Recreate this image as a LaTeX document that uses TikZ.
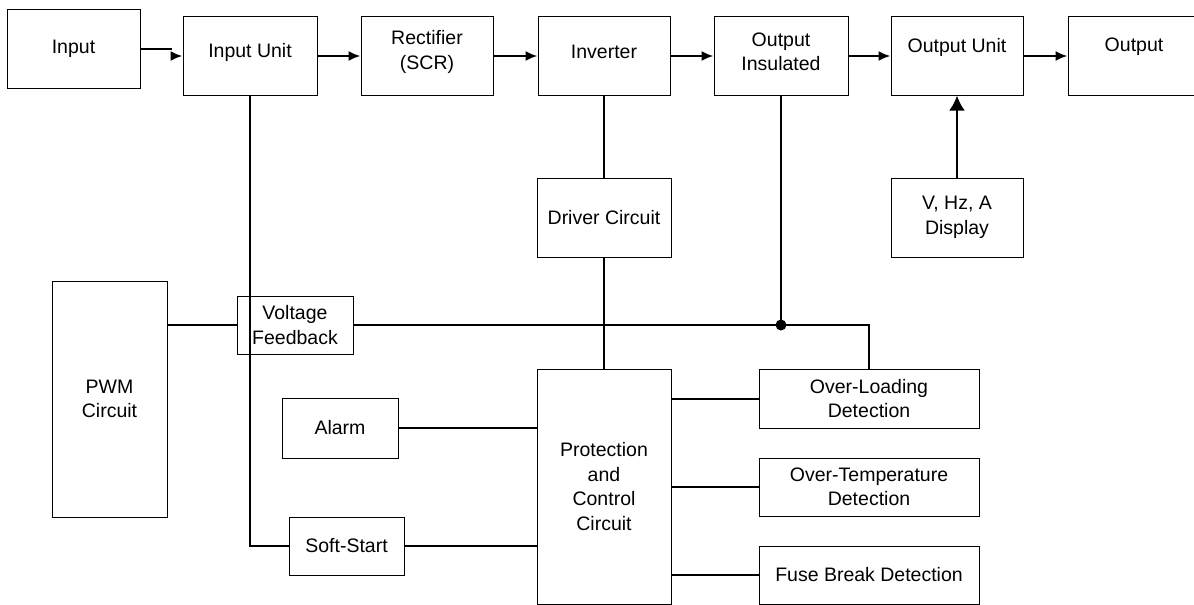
\documentclass[tikz,border=0pt]{standalone}
\usepackage{fontspec}
\setmainfont{Liberation Sans}
\usetikzlibrary{arrows.meta}
\tikzset{
  box/.style={draw, line width=1pt, inner sep=0pt, align=center,
    font=\fontsize{19.5}{24.5}\selectfont},
  boxlabel/.style={font=\fontsize{19.5}{24.5}\selectfont, align=center, inner sep=0pt},
  wire/.style={line width=2pt},
  arrow/.style={wire, -{Latex[length=12pt,width=10pt]}},
  bigarrow/.style={line width=2.8pt, -{Latex[length=15pt,width=16pt]}},
  junction/.style={circle, fill, inner sep=0pt, minimum size=11pt}
}
\begin{document}
\begin{tikzpicture}[x=1pt,y=-1pt]
\useasboundingbox (0,0) rectangle (1194,605);
% top row
\node[box, minimum width=133, minimum height=79] (in) at (73.5,48.5) {Input};
\node[box, minimum width=134, minimum height=79,
  label={[boxlabel, yshift=3.5pt]center:Input Unit}] (iu) at (250,55.5) {};
\node[box, minimum width=132, minimum height=79,
  label={[boxlabel, yshift=3.5pt]center:Rectifier\\(SCR)}] (rect) at (427,55.5) {};
\node[box, minimum width=132, minimum height=79,
  label={[boxlabel, yshift=3.5pt]center:Inverter}] (inv) at (604,55.5) {};
\node[box, minimum width=134, minimum height=79,
  label={[boxlabel, yshift=3.5pt]center:Output\\Insulated}] (oi) at (781,55.5) {};
\node[box, minimum width=132, minimum height=79,
  label={[boxlabel, yshift=8.5pt]center:Output Unit}] (ou) at (957,55.5) {};
\node[box, minimum width=132, minimum height=79,
  label={[boxlabel, yshift=8.5pt]center:Output}] (out) at (1134,55.5) {};
% second row
\node[box, minimum width=132, minimum height=79] (disp) at (957,217.5) {V, Hz, A\\Display};
\node[box, minimum width=134, minimum height=79] (drv) at (604,217.5) {Driver Circuit};
% left side
\node[box, minimum width=115, minimum height=236] (pwm) at (109.5,399) {PWM\\Circuit};
\node[box, minimum width=116, minimum height=58] (vf) at (295,325) {Voltage\\Feedback};
\node[box, minimum width=116, minimum height=60] (alarm) at (340,428) {Alarm};
\node[box, minimum width=115, minimum height=58] (ss) at (346.5,546) {Soft-Start};
% protection
\node[box, minimum width=134, minimum height=235] (prot) at (604,486.5) {Protection\\and\\Control\\Circuit};
% right detection boxes
\node[box, minimum width=220, minimum height=59] (ol) at (869,398.5) {Over-Loading\\Detection};
\node[box, minimum width=220, minimum height=58] (ot) at (869,487) {Over-Temperature\\Detection};
\node[box, minimum width=220, minimum height=58] (fb) at (869,575) {Fuse Break Detection};
% helper coordinates
\coordinate (k1) at (172,49);
\coordinate (k2) at (172,56);
\coordinate (dot) at (oi.south |- vf.east);
% top-row arrows
\draw[wire] (in.east |- k1) -- (k1);
\draw[arrow] (k2) -- (k2 -| iu.west);
\draw[arrow] (iu.east |- k2) -- (k2 -| rect.west);
\draw[arrow] (rect.east |- k2) -- (k2 -| inv.west);
\draw[arrow] (inv.east |- k2) -- (k2 -| oi.west);
\draw[arrow] (oi.east |- k2) -- (k2 -| ou.west);
\draw[arrow] (ou.east |- k2) -- (k2 -| out.west);
\draw[bigarrow] (disp.north) -- (ou.south);
% vertical links
\draw[wire] (inv.south) -- (drv.north);
\draw[wire] (drv.south) -- (prot.north);
\draw[wire] (iu.south) -- (iu.south |- ss.west) -- (ss.west);
\draw[wire] (ss.east) -- (ss.east -| prot.west);
\draw[wire] (alarm.east) -- (alarm.east -| prot.west);
% feedback line
\draw[wire] (pwm.east |- vf.west) -- (vf.west);
\draw[wire] (vf.east) -- (ol.north |- vf.east) -- (ol.north);
\draw[wire] (oi.south) -- (dot);
\node[junction] (j) at (dot) {};
% protection to detections
\draw[wire] (prot.east |- ol.west) -- (ol.west);
\draw[wire] (prot.east |- ot.west) -- (ot.west);
\draw[wire] (prot.east |- fb.west) -- (fb.west);
\end{tikzpicture}
\end{document}
